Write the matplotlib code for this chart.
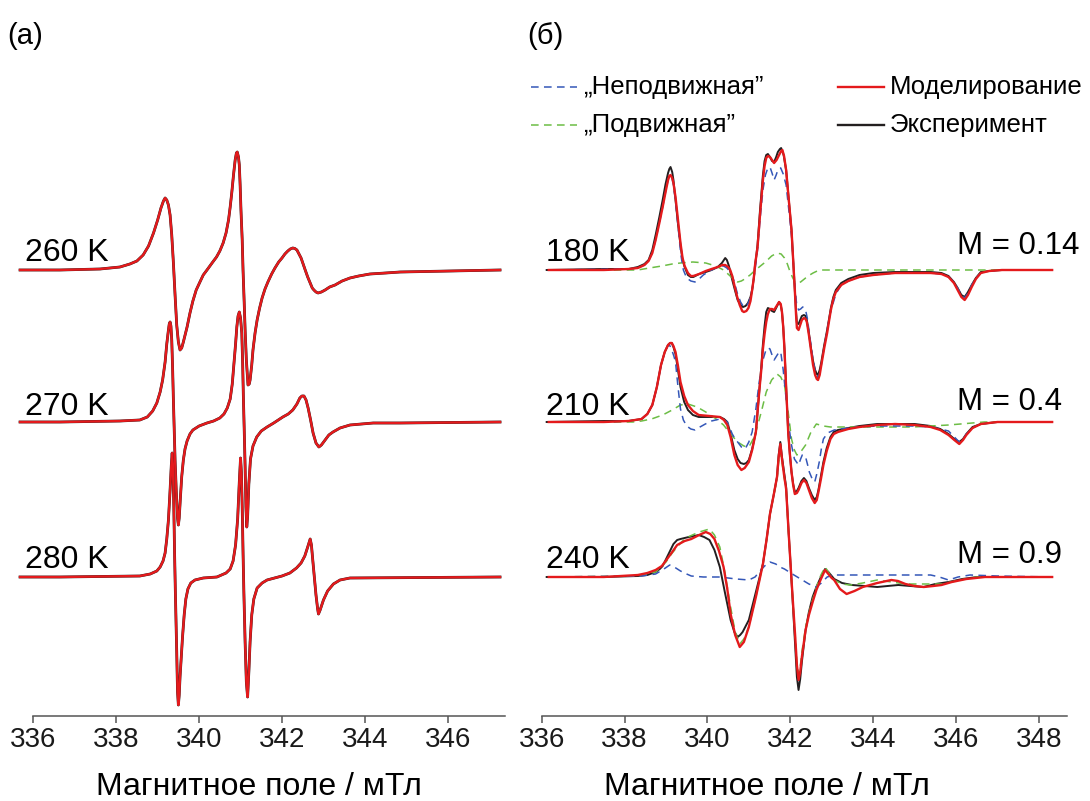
import numpy as np
import matplotlib
matplotlib.use("Agg")
import matplotlib.pyplot as plt
from matplotlib.lines import Line2D

plt.rcParams["font.family"] = ["Liberation Sans", "DejaVu Sans"]

# ── данные: (поле / мТл, амплитуда, усл. ед.) ─────────────────
# (а) эксперимент ≈ моделирование
sim_260 = [(335.68, 0), (336.64, 0), (337.61, 1), (338.09, 3), (338.33, 6), (338.50, 9),
           (338.65, 15), (338.78, 24), (338.90, 37), (339.00, 50), (339.08, 62), (339.14, 69),
           (339.18, 72), (339.22, 70), (339.26, 65), (339.30, 55), (339.34, 35), (339.38, 7),
           (339.42, -25), (339.46, -55), (339.50, -72), (339.54, -80), (339.58, -78), (339.62, -72),
           (339.71, -57), (339.78, -43), (339.85, -31), (339.93, -20), (340.02, -12), (340.10, -5),
           (340.19, 0), (340.33, 8), (340.42, 13), (340.50, 19), (340.58, 27), (340.65, 37),
           (340.71, 50), (340.75, 63), (340.79, 78), (340.83, 95), (340.87, 110), (340.90, 117),
           (340.92, 118), (340.95, 113), (340.97, 105), (340.99, 85), (341.01, 60), (341.04, 30),
           (341.06, 0), (341.09, -35), (341.11, -60), (341.14, -90), (341.18, -115), (341.21, -114),
           (341.23, -110), (341.27, -95), (341.30, -80), (341.35, -63), (341.40, -50), (341.46, -38),
           (341.52, -28), (341.59, -19), (341.66, -12), (341.75, -4), (341.83, 2), (341.92, 8),
           (342.00, 12), (342.07, 16), (342.14, 19), (342.20, 21), (342.26, 22), (342.31, 21.5),
           (342.36, 20), (342.41, 16), (342.46, 12), (342.51, 6), (342.56, 0), (342.62, -7),
           (342.68, -13), (342.73, -18), (342.77, -20), (342.82, -22), (342.87, -23), (342.95, -22),
           (343.04, -20), (343.15, -17), (343.28, -15), (343.45, -11), (343.64, -8), (343.85, -6),
           (344.12, -4), (344.50, -3), (344.85, -2), (346.05, -1), (347.26, 0)]
sim_270 = [(335.68, 0), (336.64, 0), (338.09, 1), (338.57, 2), (338.75, 5), (338.88, 11),
           (338.98, 19), (339.06, 30), (339.12, 42), (339.18, 60), (339.22, 78), (339.26, 92),
           (339.28, 98), (339.30, 100), (339.32, 96), (339.34, 82), (339.36, 55), (339.38, 22),
           (339.40, -8), (339.42, -38), (339.45, -70), (339.48, -96), (339.50, -103), (339.52, -96),
           (339.55, -75), (339.58, -55), (339.62, -38), (339.66, -27), (339.71, -19), (339.78, -12),
           (339.85, -8), (340.00, -4), (340.19, -1), (340.35, 1), (340.50, 4), (340.60, 8),
           (340.68, 14), (340.75, 23), (340.80, 38), (340.84, 58), (340.88, 78), (340.91, 95),
           (340.94, 106), (340.97, 110), (341.00, 104), (341.03, 89), (341.05, 60), (341.07, 22),
           (341.09, -10), (341.11, -45), (341.13, -85), (341.15, -105), (341.17, -95), (341.20, -62),
           (341.24, -37), (341.30, -24), (341.39, -15), (341.50, -9), (341.64, -5), (341.80, -1),
           (342.02, 5), (342.15, 8), (342.26, 12), (342.36, 18), (342.43, 24), (342.48, 26),
           (342.53, 26), (342.58, 22), (342.63, 14), (342.69, 2), (342.75, -11), (342.82, -21),
           (342.89, -25), (342.95, -23), (343.04, -18), (343.13, -13), (343.23, -10), (343.40, -6),
           (343.64, -3), (344.20, -1), (344.85, -1), (347.26, 0)]
sim_280 = [(335.68, 0), (336.64, 0), (338.57, 1), (338.82, 3), (338.98, 6), (339.06, 10),
           (339.13, 16), (339.18, 24), (339.22, 38), (339.26, 57), (339.30, 87), (339.33, 112),
           (339.35, 124), (339.37, 110), (339.39, 70), (339.41, 20), (339.43, -20), (339.46, -75),
           (339.48, -115), (339.50, -128), (339.52, -118), (339.54, -100), (339.57, -80), (339.60, -60),
           (339.64, -38), (339.68, -22), (339.73, -12), (339.80, -6), (339.90, -3), (340.10, -1),
           (340.43, 0), (340.65, 4), (340.75, 8), (340.82, 16), (340.88, 32), (340.93, 58),
           (340.97, 95), (341.00, 119), (341.02, 105), (341.04, 70), (341.06, 25), (341.08, -15),
           (341.11, -65), (341.14, -105), (341.17, -120), (341.20, -95), (341.23, -65), (341.27, -38),
           (341.32, -22), (341.40, -11), (341.52, -6), (341.64, -3), (342.00, 1), (342.19, 4),
           (342.35, 9), (342.46, 14), (342.55, 21), (342.62, 30), (342.68, 38), (342.71, 32),
           (342.74, 18), (342.78, 0), (342.82, -18), (342.86, -32), (342.88, -37), (342.92, -33),
           (343.00, -23), (343.10, -14), (343.24, -7), (343.40, -3), (343.64, -1), (347.26, 0)]

# (б) 180 K
exp_180 = [(336.12, 0), (337.50, 1), (338.10, 1), (338.32, 3), (338.48, 6), (338.58, 10),
           (338.67, 20), (338.75, 35), (338.84, 53), (338.92, 70), (338.99, 86), (339.05, 97),
           (339.08, 101), (339.11, 103), (339.15, 98), (339.18, 90), (339.23, 70), (339.29, 46),
           (339.35, 25), (339.40, 10), (339.45, 3), (339.53, -5), (339.60, -7), (339.66, -7),
           (339.80, -4), (339.96, -2), (340.10, 0), (340.25, 3), (340.35, 7), (340.43, 12),
           (340.47, 10), (340.52, 4), (340.60, -10), (340.67, -21), (340.73, -30), (340.80, -35),
           (340.86, -37), (340.92, -36), (340.98, -33), (341.04, -27), (341.08, -20), (341.12, -8),
           (341.15, 5), (341.18, 14), (341.21, 25), (341.27, 60), (341.34, 95), (341.38, 109),
           (341.42, 115), (341.46, 116), (341.51, 113), (341.56, 109), (341.61, 108), (341.66, 113),
           (341.70, 118), (341.75, 121), (341.78, 122), (341.84, 115), (341.90, 100), (341.96, 72),
           (342.03, 40), (342.07, 10), (342.11, -20), (342.14, -42), (342.16, -53), (342.20, -54),
           (342.24, -50), (342.28, -46), (342.33, -45), (342.37, -46), (342.40, -50), (342.45, -63),
           (342.50, -78), (342.55, -91), (342.60, -100), (342.64, -104), (342.67, -105), (342.71, -100),
           (342.75, -92), (342.82, -75), (342.89, -60), (342.94, -48), (342.98, -38), (343.04, -27),
           (343.10, -20), (343.23, -13), (343.40, -9), (343.67, -5), (344.00, -3), (344.53, -2),
           (345.00, -2), (345.39, -2), (345.65, -3), (345.82, -6), (345.95, -12), (346.04, -18),
           (346.13, -25), (346.21, -27), (346.29, -22), (346.38, -15), (346.48, -8), (346.60, -2),
           (346.80, -1), (347.11, 0), (348.32, 0)]
sim_180 = [(336.17, 0), (337.50, 0), (338.10, 1), (338.32, 2), (338.48, 5), (338.58, 9),
           (338.67, 17), (338.75, 30), (338.84, 47), (338.92, 63), (338.99, 78), (339.05, 90),
           (339.08, 94), (339.11, 95), (339.15, 92), (339.18, 87), (339.23, 73), (339.29, 50),
           (339.35, 27), (339.40, 12), (339.45, 4), (339.53, -3), (339.60, -6), (339.66, -6),
           (339.80, -4), (339.96, -1), (340.10, 1), (340.25, 3), (340.36, 5), (340.43, 5),
           (340.50, 3), (340.55, 0), (340.60, -6), (340.65, -15), (340.72, -27), (340.78, -35),
           (340.84, -41), (340.88, -42), (340.94, -41), (340.99, -38), (341.04, -31), (341.08, -20),
           (341.12, -8), (341.15, 5), (341.18, 14), (341.21, 23), (341.27, 55), (341.34, 90),
           (341.38, 104), (341.42, 112), (341.46, 114), (341.51, 113), (341.56, 110), (341.61, 107),
           (341.67, 110), (341.73, 115), (341.78, 119), (341.81, 120), (341.85, 114), (341.90, 100),
           (341.96, 72), (342.03, 40), (342.07, 10), (342.11, -20), (342.14, -45), (342.16, -58),
           (342.20, -60), (342.24, -55), (342.28, -50), (342.33, -48), (342.37, -49), (342.40, -52),
           (342.45, -65), (342.50, -80), (342.55, -95), (342.60, -105), (342.64, -109), (342.67, -110),
           (342.71, -105), (342.75, -95), (342.82, -78), (342.89, -63), (342.94, -50), (342.98, -40),
           (343.04, -29), (343.10, -22), (343.23, -15), (343.40, -11), (343.67, -7), (344.00, -5),
           (344.53, -3), (345.00, -3), (345.39, -3), (345.65, -4), (345.82, -7), (345.95, -13),
           (346.04, -20), (346.13, -27), (346.21, -30), (346.29, -25), (346.38, -17), (346.48, -9),
           (346.60, -3), (346.80, -1), (347.11, 0), (348.32, 0)]
imm_180 = [(336.17, 0), (338.10, 1), (338.32, 2), (338.48, 5), (338.58, 9), (338.67, 17),
           (338.75, 30), (338.84, 47), (338.92, 63), (338.99, 78), (339.05, 90), (339.08, 94),
           (339.11, 95), (339.15, 91), (339.18, 85), (339.24, 65), (339.30, 40), (339.36, 15),
           (339.42, 0), (339.50, -8), (339.60, -11), (339.70, -12), (339.80, -9), (339.90, -5),
           (340.05, -1), (340.20, 2), (340.30, 4), (340.39, 4), (340.47, 2), (340.55, -2),
           (340.60, -6), (340.65, -12), (340.72, -23), (340.80, -32), (340.86, -36), (340.91, -37),
           (340.96, -35), (341.00, -32), (341.05, -25), (341.10, -15), (341.15, 0), (341.21, 20),
           (341.27, 50), (341.34, 80), (341.40, 95), (341.45, 101), (341.51, 103), (341.56, 97),
           (341.61, 90), (341.66, 95), (341.70, 100), (341.74, 102), (341.77, 102), (341.83, 96),
           (341.90, 85), (341.96, 62), (342.03, 35), (342.07, 10), (342.11, -15), (342.15, -33),
           (342.20, -40), (342.25, -39), (342.30, -37), (342.34, -38), (342.37, -40), (342.41, -48),
           (342.45, -60), (342.50, -75), (342.55, -90), (342.61, -103), (342.67, -108), (342.71, -103),
           (342.75, -95), (342.82, -77), (342.89, -60), (342.95, -46), (343.00, -38), (343.10, -24),
           (343.23, -15), (343.40, -11), (343.67, -7), (344.00, -5), (344.53, -3), (345.00, -3),
           (345.39, -3), (345.65, -4), (345.82, -7), (345.95, -12), (346.04, -18), (346.13, -25),
           (346.21, -28), (346.29, -23), (346.38, -15), (346.48, -8), (346.60, -3), (346.80, -1),
           (347.11, 0), (348.32, 0)]
mob_180 = [(336.17, 0), (338.32, 0), (338.60, 2), (338.90, 4), (339.15, 6), (339.35, 7),
           (339.65, 8), (339.96, 7), (340.20, 4), (340.39, 0), (340.55, -6), (340.65, -10),
           (340.73, -12), (340.82, -11), (340.90, -9), (341.03, -5), (341.16, 0), (341.28, 4),
           (341.40, 8), (341.55, 14), (341.68, 17), (341.78, 16), (341.86, 12), (341.93, 6),
           (341.98, 0), (342.05, -7), (342.11, -12), (342.18, -13), (342.25, -12), (342.37, -8),
           (342.47, -5), (342.55, -3), (342.65, -1), (342.72, 0), (348.32, 0)]

# (б) 210 K
exp_210 = [(336.12, 0), (337.50, 1), (338.10, 1), (338.41, 3), (338.55, 8), (338.67, 17),
           (338.78, 35), (338.88, 57), (338.97, 70), (339.05, 77), (339.10, 79), (339.14, 79),
           (339.18, 75), (339.23, 68), (339.29, 52), (339.35, 35), (339.44, 20), (339.53, 12),
           (339.65, 7), (339.79, 5), (340.05, 5), (340.30, 5), (340.40, 3), (340.48, 0),
           (340.56, -12), (340.65, -28), (340.73, -37), (340.80, -41), (340.88, -42), (340.94, -41),
           (341.00, -38), (341.08, -27), (341.17, -10), (341.21, 10), (341.25, 30), (341.30, 55),
           (341.34, 78), (341.38, 96), (341.42, 110), (341.46, 114), (341.51, 113), (341.56, 111),
           (341.61, 110), (341.67, 115), (341.73, 120), (341.77, 117), (341.80, 110), (341.83, 95),
           (341.86, 73), (341.90, 35), (341.95, -10), (341.99, -32), (342.03, -50), (342.07, -62),
           (342.11, -70), (342.16, -69), (342.20, -66), (342.27, -59), (342.33, -56), (342.39, -59),
           (342.45, -66), (342.52, -73), (342.59, -78), (342.64, -75), (342.68, -68), (342.74, -54),
           (342.80, -40), (342.88, -26), (342.97, -15), (343.05, -10), (343.15, -8), (343.40, -6),
           (343.67, -4), (344.10, -2), (344.53, -2), (345.00, -2), (345.39, -4), (345.62, -7),
           (345.82, -12), (345.96, -17), (346.08, -20), (346.17, -17), (346.25, -12), (346.40, -5),
           (346.60, -2), (347.00, 0), (348.32, 0)]
sim_210 = [(336.17, 0), (337.50, 0), (338.10, 1), (338.41, 3), (338.55, 8), (338.67, 17),
           (338.78, 35), (338.88, 57), (338.97, 70), (339.05, 77), (339.10, 79), (339.14, 79),
           (339.18, 76), (339.23, 70), (339.29, 56), (339.35, 40), (339.44, 26), (339.53, 17),
           (339.65, 11), (339.79, 7), (340.05, 6), (340.30, 5), (340.40, 2), (340.48, -3),
           (340.56, -15), (340.65, -33), (340.73, -43), (340.82, -48), (340.90, -46), (341.00, -40),
           (341.08, -28), (341.17, -10), (341.21, 10), (341.25, 30), (341.30, 52), (341.34, 73),
           (341.38, 88), (341.42, 100), (341.46, 108), (341.51, 113), (341.56, 113), (341.61, 112),
           (341.67, 116), (341.73, 120), (341.77, 118), (341.80, 110), (341.83, 95), (341.86, 73),
           (341.90, 35), (341.95, -10), (341.99, -32), (342.03, -50), (342.07, -63), (342.11, -72),
           (342.16, -71), (342.20, -68), (342.27, -61), (342.33, -58), (342.39, -61), (342.45, -68),
           (342.52, -76), (342.59, -81), (342.64, -78), (342.68, -70), (342.74, -57), (342.80, -43),
           (342.88, -29), (342.97, -17), (343.05, -12), (343.15, -10), (343.40, -7), (343.67, -5),
           (344.10, -3), (344.53, -2), (345.00, -3), (345.39, -5), (345.62, -8), (345.82, -13),
           (345.96, -18), (346.08, -22), (346.17, -18), (346.25, -13), (346.40, -6), (346.60, -2),
           (347.00, 0), (348.32, 0)]
imm_210 = [(336.17, 0), (337.50, 0), (338.10, 1), (338.41, 3), (338.55, 8), (338.67, 17),
           (338.78, 35), (338.88, 57), (338.97, 70), (339.05, 77), (339.10, 76), (339.14, 72),
           (339.19, 66), (339.23, 60), (339.29, 35), (339.35, 13), (339.42, 2), (339.50, -4),
           (339.60, -7), (339.70, -8), (339.82, -5), (339.95, -2), (340.10, 1), (340.30, 3),
           (340.40, 2), (340.48, 0), (340.55, -7), (340.60, -12), (340.67, -17), (340.73, -20),
           (340.82, -25), (340.91, -27), (341.00, -20), (341.08, -10), (341.17, 13), (341.25, 40),
           (341.34, 62), (341.42, 73), (341.47, 74), (341.51, 73), (341.56, 67), (341.61, 62),
           (341.67, 66), (341.73, 70), (341.77, 70), (341.83, 52), (341.90, 23), (341.96, -2),
           (342.03, -23), (342.10, -37), (342.20, -43), (342.25, -37), (342.29, -33), (342.33, -33),
           (342.37, -35), (342.42, -43), (342.46, -50), (342.53, -57), (342.59, -60), (342.64, -52),
           (342.70, -40), (342.75, -27), (342.80, -17), (342.90, -11), (343.06, -8), (343.40, -6),
           (343.67, -5), (344.10, -4), (344.53, -4), (345.00, -4), (345.39, -5), (345.62, -7),
           (345.82, -9), (345.96, -15), (346.08, -20), (346.17, -17), (346.25, -12), (346.40, -6),
           (346.60, -2), (347.00, 0), (348.32, 0)]
mob_210 = [(336.17, 0), (338.20, 0), (338.41, 1), (338.65, 3), (338.92, 7), (339.15, 12),
           (339.35, 17), (339.53, 18), (339.75, 15), (339.96, 10), (340.18, 4), (340.39, -3),
           (340.56, -12), (340.73, -20), (340.88, -24), (341.00, -25), (341.08, -19), (341.17, -10),
           (341.30, 10), (341.42, 30), (341.55, 42), (341.68, 48), (341.77, 45), (341.86, 37),
           (341.95, 10), (342.03, -17), (342.10, -28), (342.16, -33), (342.25, -30), (342.37, -23),
           (342.50, -10), (342.63, -2), (342.80, -4), (342.97, -5), (343.67, -5), (344.96, -5),
           (345.82, -3), (346.68, 0), (348.32, 0)]

# (б) 240 K
exp_240 = [(336.12, 0), (337.50, 0), (338.32, 1), (338.55, 2), (338.75, 5), (338.85, 8),
           (338.92, 11), (339.05, 22), (339.18, 33), (339.27, 37), (339.35, 38), (339.45, 39),
           (339.55, 40), (339.68, 41), (339.79, 42), (339.92, 40), (340.05, 37), (340.17, 27),
           (340.30, 10), (340.42, -15), (340.56, -43), (340.65, -55), (340.73, -60), (340.79, -58),
           (340.85, -55), (341.00, -43), (341.17, -15), (341.34, 13), (341.43, 38), (341.51, 63),
           (341.60, 82), (341.68, 100), (341.72, 122), (341.76, 135), (341.80, 120), (341.85, 105),
           (341.90, 90), (341.96, 45), (342.03, -3), (342.08, -40), (342.12, -70), (342.16, -100),
           (342.20, -113), (342.24, -102), (342.28, -85), (342.33, -67), (342.37, -53), (342.45, -35),
           (342.54, -20), (342.63, -10), (342.74, 0), (342.84, 8), (342.92, 5), (343.06, -2),
           (343.25, -6), (343.49, -8), (343.80, -9), (344.10, -10), (344.35, -9), (344.61, -8),
           (344.90, -9), (345.22, -10), (345.50, -7), (345.82, -5), (346.15, -2), (346.51, 0),
           (348.32, 0)]
sim_240 = [(336.17, 0), (337.50, 0), (338.32, 2), (338.55, 4), (338.75, 7), (338.90, 11),
           (339.01, 17), (339.15, 25), (339.27, 32), (339.45, 36), (339.61, 38), (339.80, 42),
           (339.96, 45), (340.07, 43), (340.17, 38), (340.28, 26), (340.39, 10), (340.48, -12),
           (340.56, -37), (340.67, -58), (340.78, -70), (340.88, -65), (341.00, -50), (341.17, -20),
           (341.34, 13), (341.43, 38), (341.51, 63), (341.60, 82), (341.68, 100), (341.72, 120),
           (341.76, 133), (341.80, 118), (341.85, 102), (341.90, 88), (341.96, 45), (342.03, -3),
           (342.08, -35), (342.12, -60), (342.16, -88), (342.20, -103), (342.24, -95), (342.28, -80),
           (342.33, -65), (342.37, -53), (342.45, -38), (342.54, -25), (342.63, -13), (342.74, -2),
           (342.84, 7), (342.92, 3), (343.00, -1), (343.06, -3), (343.20, -12), (343.36, -17),
           (343.55, -14), (343.75, -10), (344.10, -6), (344.44, -3), (344.60, -4), (344.78, -7),
           (345.00, -9), (345.22, -10), (345.45, -9), (345.65, -8), (345.90, -5), (346.25, -2),
           (346.70, 0), (348.32, 0)]
imm_240 = [(336.17, 0), (338.40, 1), (338.75, 3), (338.95, 8), (339.09, 12), (339.20, 10),
           (339.35, 6), (339.50, 3), (339.61, 1), (339.90, 0), (340.30, 0), (340.70, -2),
           (341.00, -3), (341.15, 0), (341.25, 5), (341.38, 11), (341.51, 15), (341.65, 13),
           (341.75, 10), (341.86, 8), (342.05, 3), (342.29, -3), (342.45, -7), (342.63, -10),
           (342.75, -6), (342.89, 0), (343.05, 2), (343.23, 2), (344.50, 2), (345.39, 2),
           (345.60, 0), (345.82, -3), (346.05, 0), (346.34, 2), (347.00, 1), (348.32, 0)]
mob_240 = [(336.17, 0), (338.32, 1), (338.55, 3), (338.75, 5), (339.00, 15), (339.15, 24),
           (339.27, 30), (339.40, 36), (339.53, 40), (339.80, 45), (340.05, 48), (340.17, 42),
           (340.30, 30), (340.42, 5), (340.56, -30), (340.67, -55), (340.78, -67), (340.88, -62),
           (341.00, -50), (341.17, -20), (341.34, 13), (341.43, 38), (341.51, 63), (341.60, 82),
           (341.68, 97), (341.72, 115), (341.76, 125), (341.80, 115), (341.85, 100), (341.90, 88),
           (341.96, 43), (342.03, -3), (342.08, -35), (342.12, -60), (342.16, -85), (342.20, -97),
           (342.24, -90), (342.28, -75), (342.37, -50), (342.50, -28), (342.63, -10), (342.74, 2),
           (342.84, 10), (342.95, 3), (343.06, -3), (343.25, -7), (343.45, -8), (343.75, -6),
           (344.10, -3), (344.45, -5), (344.78, -7), (345.20, -7), (345.65, -7), (346.10, -3),
           (346.51, 0), (348.32, 0)]

temps_a   = ["260 K", "270 K", "280 K"]
temps_b   = ["180 K", "210 K", "240 K"]
m_labels  = ["M = 0.14", "M = 0.4", "M = 0.9"]
ticks_a   = [336, 338, 340, 342, 344, 346]
ticks_b   = [336, 338, 340, 342, 344, 346, 348]
XLABEL    = "Магнитное поле / мТл"

# ── оформление ────────────────────────────────────────────
W, H = 1090, 801
RED, BLACK = "#e41a1c", "#231f20"
BLUE, GREEN = "#3457b8", "#6cbd45"
DASH = (0, (5, 3.5))
offsets = [446, 294, 139]      # базовые линии спектров (сверху вниз)


def fx(px):
    return px / W


def fy(py):
    return 1 - py / H


def xy(pairs):
    a = np.array(pairs, dtype=float)
    return a[:, 0], a[:, 1]


def style_axis(ax, xmax, ticks):
    ax.set_xlim(336, xmax)
    ax.set_ylim(0, 716)
    for s in ["left", "right", "top"]:
        ax.spines[s].set_visible(False)
    ax.spines["bottom"].set_color("#555555")
    ax.spines["bottom"].set_linewidth(1.1)
    ax.set_yticks([])
    ax.set_xticks(ticks)
    ax.tick_params(axis="x", direction="out", length=5, width=1.1,
                   color="#555555", labelsize=20, pad=3, labelcolor="#1a1a1a")
    ax.patch.set_visible(False)


fig = plt.figure(figsize=(W / 100, H / 100), dpi=100)
ax1 = fig.add_axes([fx(33.3), 85 / H, (505 - 33.3) / W, 716 / H])
ax2 = fig.add_axes([fx(541.7), 85 / H, (1067 - 541.7) / W, 716 / H])
style_axis(ax1, 347.38, ticks_a)
style_axis(ax2, 348.68, ticks_b)

# (а)
for data, off in zip([sim_260, sim_270, sim_280], offsets):
    b, y = xy(data)
    ax1.plot(b, y + off, color=BLACK, lw=2.0, clip_on=False, zorder=2)
    ax1.plot(b, y + off, color=RED, lw=1.7, clip_on=False, zorder=3)

# (б)
groups = [(exp_180, sim_180, imm_180, mob_180),
          (exp_210, sim_210, imm_210, mob_210),
          (exp_240, sim_240, imm_240, mob_240)]
for (e, s, im, mo), off in zip(groups, offsets):
    b, y = xy(e)
    ax2.plot(b, y + off, color=BLACK, lw=1.4, clip_on=False, zorder=2)
    b, y = xy(mo)
    ax2.plot(b, y + off, color=GREEN, lw=1.1, ls=DASH, clip_on=False, zorder=3)
    b, y = xy(im)
    ax2.plot(b, y + off, color=BLUE, lw=1.1, ls=DASH, clip_on=False, zorder=4)
    b, y = xy(s)
    ax2.plot(b, y + off, color=RED, lw=1.7, clip_on=False, zorder=5)

# подписи
FS = 23
for lab, base in zip(temps_a, [261, 415, 568]):
    fig.text(fx(25), fy(base), lab, fontsize=FS, va="baseline", ha="left")
for lab, base in zip(temps_b, [261, 415, 568]):
    fig.text(fx(546), fy(base), lab, fontsize=FS, va="baseline", ha="left")
for lab, base in zip(m_labels, [254, 410, 563]):
    fig.text(fx(957), fy(base), lab, fontsize=FS - 0.5, va="baseline", ha="left")

fig.text(fx(7), fy(36), "(a)", fontsize=21, va="center", ha="left")
fig.text(fx(527), fy(36), "(б)", fontsize=21, va="center", ha="left")

fig.text(fx(258.5), fy(795), XLABEL, fontsize=23, va="baseline", ha="center")
fig.text(fx(767), fy(795), XLABEL, fontsize=23, va="baseline", ha="center")

# легенда
legend_items = [(531, 87, BLUE, DASH, "„Неподвижная”"),
                (531, 125, GREEN, DASH, "„Подвижная”"),
                (838, 87, RED, "-", "Моделирование"),
                (838, 125, BLACK, "-", "Эксперимент")]
for x0, yy, col, ls, lab in legend_items:
    lw = 1.1 if ls is DASH else 1.7
    fig.add_artist(Line2D([fx(x0), fx(x0 + 46)], [fy(yy), fy(yy)],
                          transform=fig.transFigure, color=col, lw=lw, ls=ls))
    fig.text(fx(x0 + 52), fy(yy), lab, fontsize=18.5, va="center", ha="left")

fig.savefig("out.png", dpi=100)
